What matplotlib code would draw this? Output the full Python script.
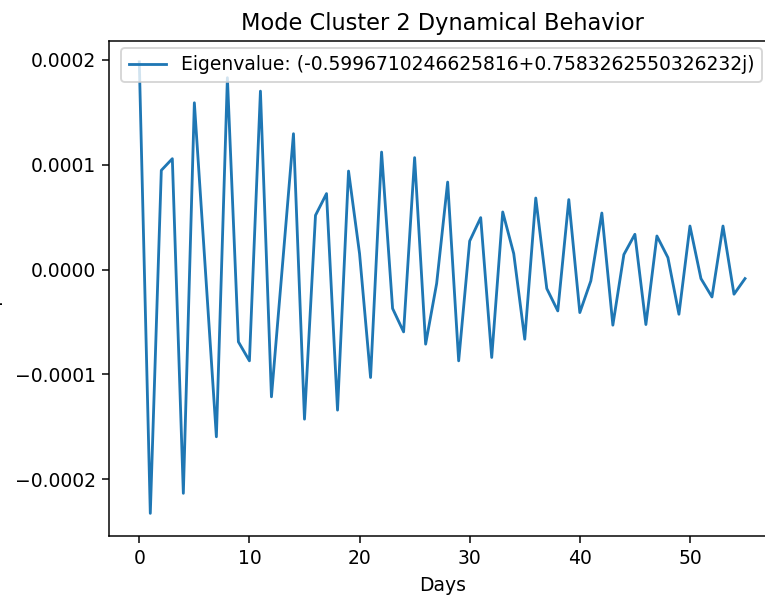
import matplotlib
matplotlib.use("Agg")
import matplotlib.pyplot as plt
import numpy as np

days = list(range(56))
values_e4 = [
    1.98, -2.324, 0.946, 1.057, -2.133, 1.590, 0.00, -1.594, 1.829, -0.689,
    -0.870, 1.701, -1.213, 0.04, 1.295, -1.426, 0.517, 0.724, -1.340, 0.939,
    0.152, -1.029, 1.120, -0.371, -0.594, 1.067, -0.711, -0.133, 0.834, -0.870,
    0.272, 0.495, -0.838, 0.549, 0.152, -0.664, 0.682, -0.181, -0.394, 0.667,
    -0.410, -0.108, 0.539, -0.530, 0.143, 0.336, -0.524, 0.320, 0.114, -0.426,
    0.415, -0.086, -0.261, 0.415, -0.235, -0.086,
]
values = [v * 1e-4 for v in values_e4]
title = "Mode Cluster 2 Dynamical Behavior"
legend_label = "Eigenvalue: (-0.5996710246625816+0.7583262550326232j)"
xlabel = "Days"
ylabel = "Amplitude"

DPI = 135
W, H = 765, 598
fig = plt.figure(figsize=(W / DPI, H / DPI), dpi=DPI)
ax = fig.add_axes([109 / W, 62 / H, 666.3 / W, 495 / H])
ax.plot(days, values, color="#1f77b4", label=legend_label)
ax.set_ylim(-2.540e-4, 2.179e-4)
ax.set_xlim(-2.75, 57.75)
ax.set_title(title)
ax.set_xlabel(xlabel)
ax.set_ylabel(ylabel)
ax.yaxis.set_label_coords((3 - 109) / 666.3, 0.5)
ax.legend(loc="upper right", bbox_to_anchor=(762 / W, (H - 48) / H),
          bbox_transform=fig.transFigure, borderaxespad=0)
fig.savefig("out.png", dpi=DPI)
